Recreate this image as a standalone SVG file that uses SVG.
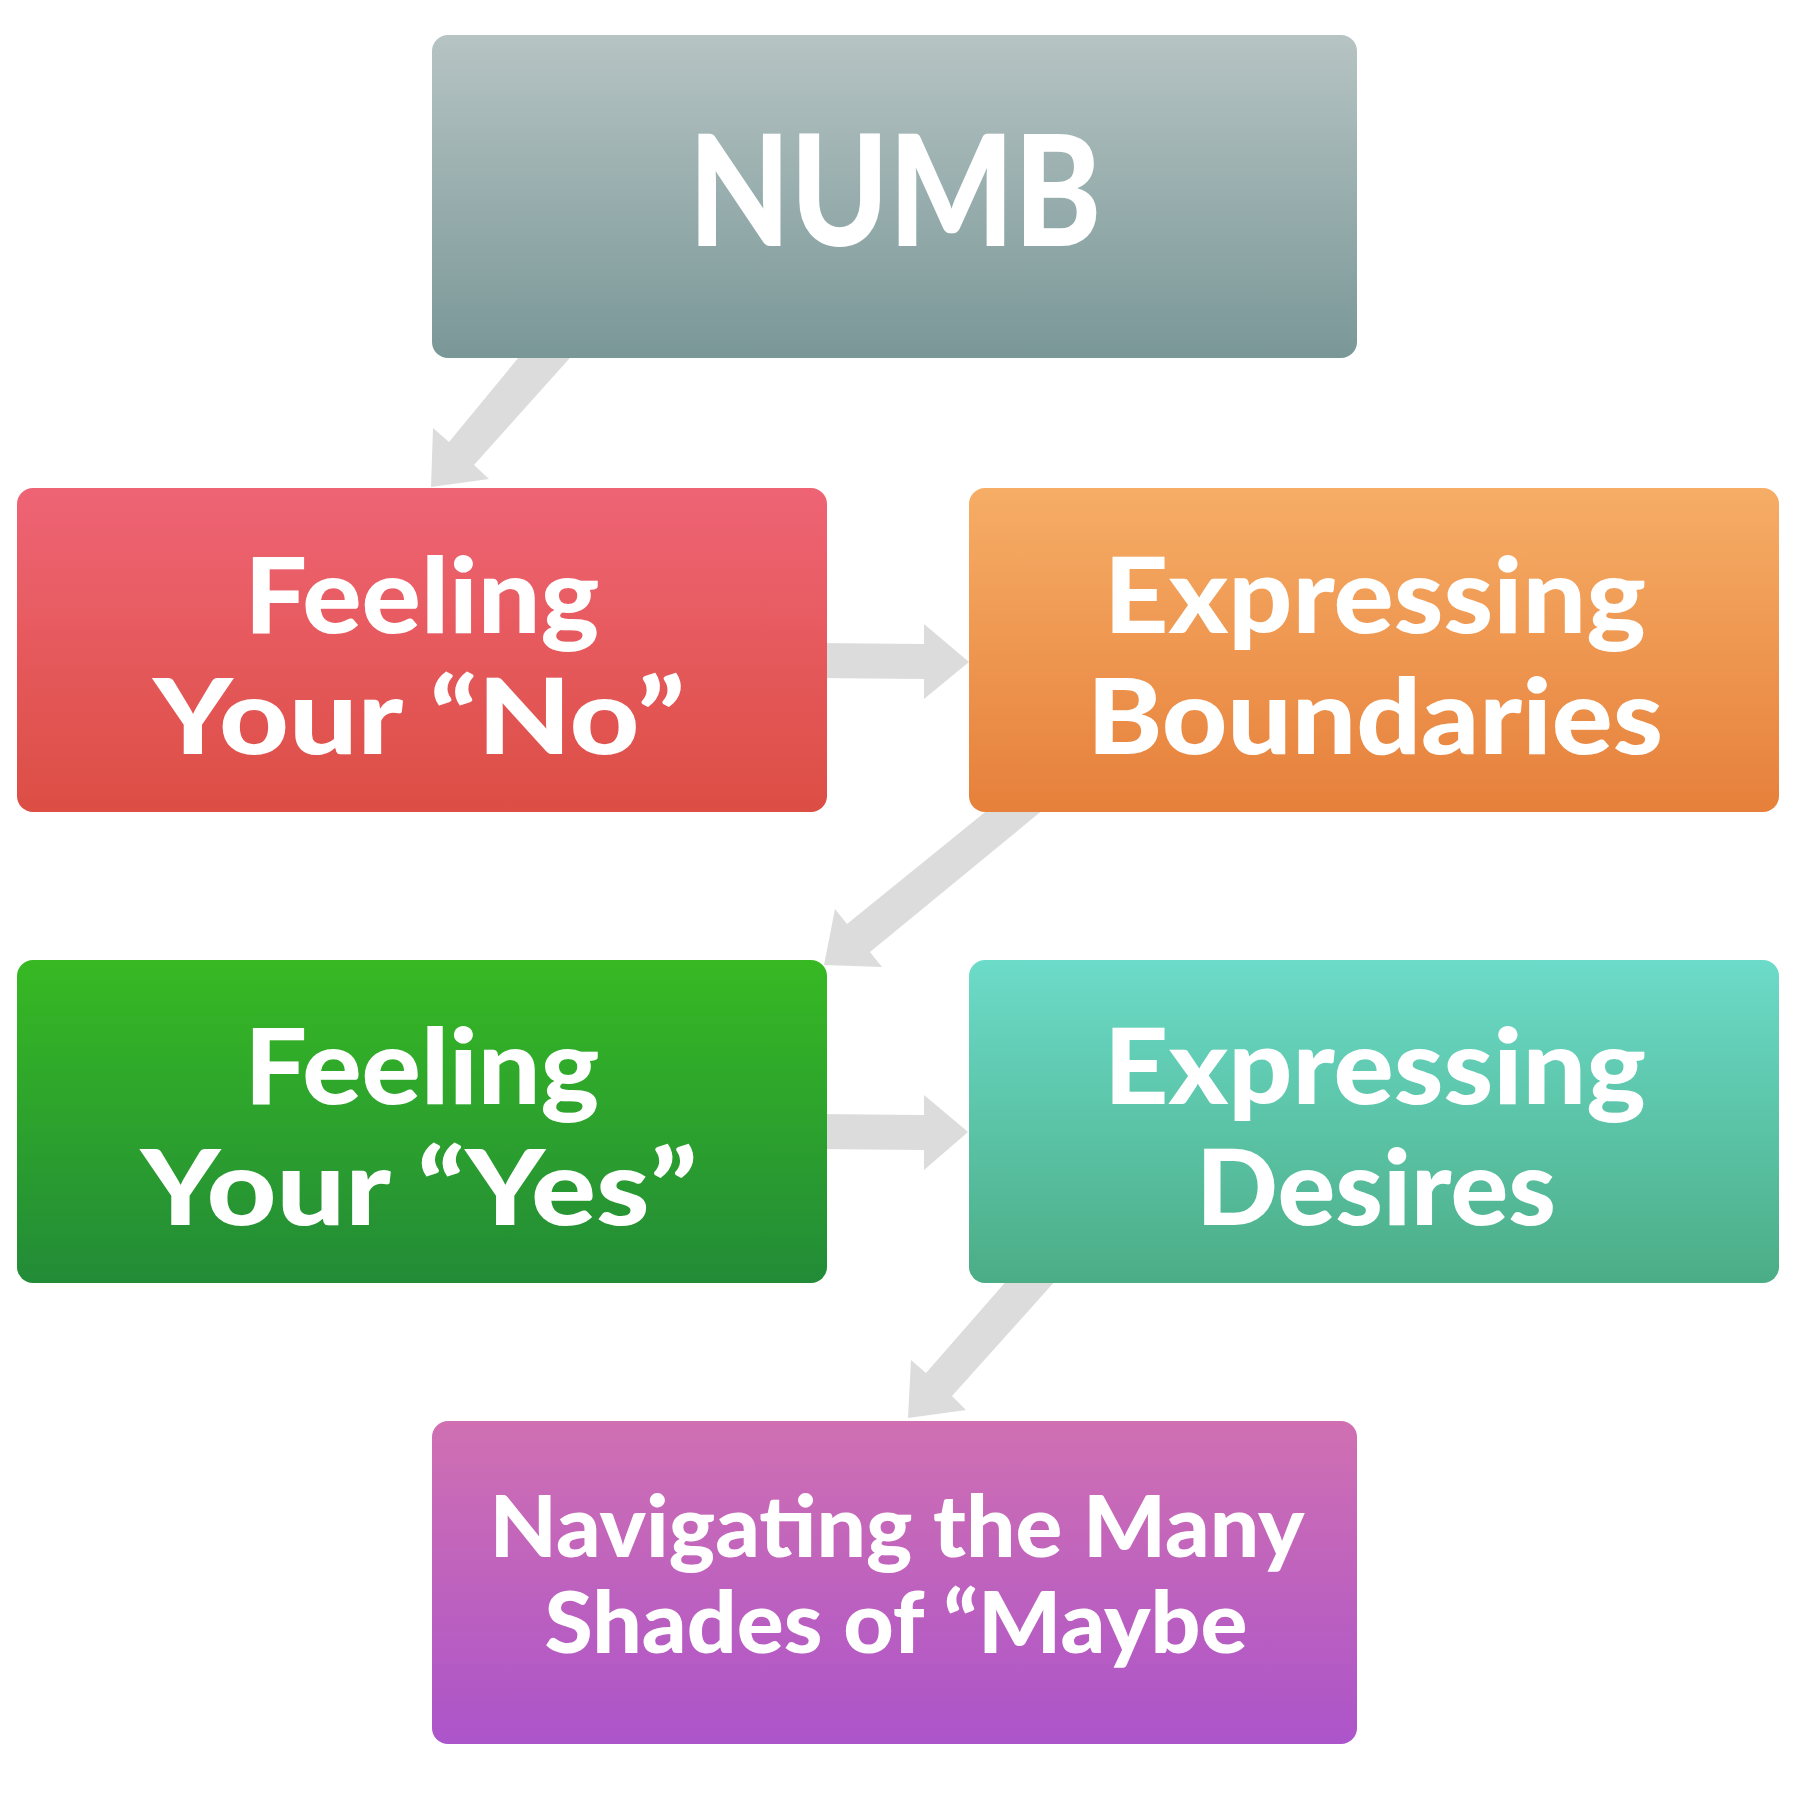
<svg xmlns="http://www.w3.org/2000/svg" width="1800" height="1800" viewBox="0 0 1800 1800">
<defs>
<linearGradient id="gNumb" x1="0" y1="0" x2="0" y2="1"><stop offset="0" stop-color="#B6C4C3"/><stop offset="1" stop-color="#7A9798"/></linearGradient>
<linearGradient id="gRed" x1="0" y1="0" x2="0" y2="1"><stop offset="0" stop-color="#EF6475"/><stop offset="1" stop-color="#DC4E44"/></linearGradient>
<linearGradient id="gOrange" x1="0" y1="0" x2="0" y2="1"><stop offset="0" stop-color="#F6AD66"/><stop offset="1" stop-color="#E6803B"/></linearGradient>
<linearGradient id="gGreen" x1="0" y1="0" x2="0" y2="1"><stop offset="0" stop-color="#37B923"/><stop offset="1" stop-color="#228B37"/></linearGradient>
<linearGradient id="gTeal" x1="0" y1="0" x2="0" y2="1"><stop offset="0" stop-color="#6CDBC9"/><stop offset="1" stop-color="#4BAD86"/></linearGradient>
<linearGradient id="gPurple" x1="0" y1="0" x2="0" y2="1"><stop offset="0" stop-color="#D070B2"/><stop offset="1" stop-color="#AC54CA"/></linearGradient>
</defs>
<style>
.arrow{fill:#DCDCDC}
.box{stroke:none}
.t{font-family:"Lato","Liberation Sans",sans-serif;font-weight:900;fill:#FFFFFF;text-anchor:middle}
.big{font-size:154px}
.mid{font-size:105px}
.small{font-size:86px}
</style>
<g id="connectors">
<polygon class="arrow" points="533,340 586,340 474,465 489,479 431,487 433,428 449,442"/>
<polygon class="arrow" points="815,643 924,644 924,624 969,662 924,699 924,679 815,678"/>
<polygon class="arrow" points="1000,800 1055,800 870,952 882,967 824,965 835,909 847,924"/>
<polygon class="arrow" points="815,1114 924,1115 924,1095 968,1132 924,1170 924,1150 815,1149"/>
<polygon class="arrow" points="1016,1270 1065,1270 952,1396 966,1410 908,1418 911,1360 926,1373"/>
</g>
<g id="node-numb">
<rect class="box" x="432" y="35" width="925" height="323" rx="16" fill="url(#gNumb)"/>
<text class="t big" x="895" y="246" textLength="413" lengthAdjust="spacingAndGlyphs">NUMB</text>
</g>
<g id="node-no">
<rect class="box" x="17" y="488" width="810" height="324" rx="16" fill="url(#gRed)"/>
<text class="t mid"><tspan x="422" y="633" textLength="355" lengthAdjust="spacingAndGlyphs">Feeling</tspan><tspan x="419" y="754" textLength="532" lengthAdjust="spacingAndGlyphs">Your “No”</tspan></text>
</g>
<g id="node-boundaries">
<rect class="box" x="969" y="488" width="810" height="324" rx="16" fill="url(#gOrange)"/>
<text class="t mid"><tspan x="1375" y="633" textLength="542" lengthAdjust="spacingAndGlyphs">Expressing</tspan><tspan x="1375" y="754" textLength="576" lengthAdjust="spacingAndGlyphs">Boundaries</tspan></text>
</g>
<g id="node-yes">
<rect class="box" x="17" y="960" width="810" height="323" rx="16" fill="url(#gGreen)"/>
<text class="t mid"><tspan x="422" y="1104" textLength="355" lengthAdjust="spacingAndGlyphs">Feeling</tspan><tspan x="419" y="1225" textLength="557" lengthAdjust="spacingAndGlyphs">Your “Yes”</tspan></text>
</g>
<g id="node-desires">
<rect class="box" x="969" y="960" width="810" height="323" rx="16" fill="url(#gTeal)"/>
<text class="t mid"><tspan x="1375" y="1104" textLength="542" lengthAdjust="spacingAndGlyphs">Expressing</tspan><tspan x="1376" y="1225" textLength="360" lengthAdjust="spacingAndGlyphs">Desires</tspan></text>
</g>
<g id="node-maybe">
<rect class="box" x="432" y="1421" width="925" height="323" rx="16" fill="url(#gPurple)"/>
<text class="t small"><tspan x="897" y="1557" textLength="815" lengthAdjust="spacingAndGlyphs">Navigating the Many</tspan><tspan x="896" y="1653" textLength="703" lengthAdjust="spacingAndGlyphs">Shades of “Maybe</tspan></text>
</g>
</svg>
